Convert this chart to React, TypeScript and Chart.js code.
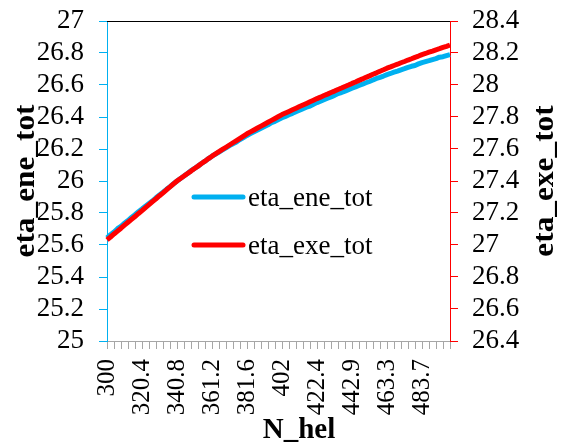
import React, { useEffect, useRef } from "react";
import { Chart, registerables } from "chart.js";

Chart.register(...registerables);

// N_hel categories (99 points, 300 .. 500)
const nHel: number[] = [
  300, 302, 304.1, 306.1, 308.2, 310.2, 312.2, 314.3, 316.3, 318.4,
  320.4, 322.4, 324.5, 326.5, 328.6, 330.6, 332.7, 334.7, 336.7, 338.8,
  340.8, 342.9, 344.9, 346.9, 349, 351, 353.1, 355.1, 357.1, 359.2,
  361.2, 363.3, 365.3, 367.3, 369.4, 371.4, 373.5, 375.5, 377.6, 379.6,
  381.6, 383.7, 385.7, 387.8, 389.8, 391.8, 393.9, 395.9, 398, 400,
  402, 404.1, 406.1, 408.2, 410.2, 412.2, 414.3, 416.3, 418.4, 420.4,
  422.4, 424.5, 426.5, 428.6, 430.6, 432.7, 434.7, 436.7, 438.8, 440.8,
  442.9, 444.9, 446.9, 449, 451, 453.1, 455.1, 457.1, 459.2, 461.2,
  463.3, 465.3, 467.3, 469.4, 471.4, 473.5, 475.5, 477.6, 479.6, 481.6,
  483.7, 485.7, 487.8, 489.8, 491.8, 493.9, 495.9, 498, 500,
];

// left axis series
const etaEneTot: number[] = [
  25.645, 25.664, 25.681, 25.702, 25.717, 25.736, 25.753, 25.772, 25.789, 25.808,
  25.825, 25.843, 25.860, 25.876, 25.895, 25.913, 25.930, 25.948, 25.965, 25.983,
  26.000, 26.016, 26.031, 26.047, 26.065, 26.078, 26.093, 26.109, 26.124, 26.140,
  26.155, 26.168, 26.181, 26.194, 26.207, 26.221, 26.233, 26.244, 26.259, 26.272,
  26.285, 26.296, 26.307, 26.318, 26.329, 26.340, 26.351, 26.365, 26.373, 26.384,
  26.395, 26.404, 26.414, 26.423, 26.433, 26.442, 26.452, 26.461, 26.468, 26.480,
  26.490, 26.499, 26.508, 26.517, 26.526, 26.535, 26.547, 26.553, 26.562, 26.571,
  26.580, 26.588, 26.597, 26.605, 26.614, 26.622, 26.631, 26.641, 26.648, 26.656,
  26.665, 26.672, 26.680, 26.687, 26.695, 26.702, 26.710, 26.717, 26.722, 26.732,
  26.740, 26.746, 26.752, 26.759, 26.765, 26.774, 26.777, 26.784, 26.790,
];

// right axis series
const etaExeTot: number[] = [
  27.032, 27.050, 27.069, 27.087, 27.105, 27.124, 27.142, 27.160, 27.178, 27.197,
  27.215, 27.234, 27.252, 27.271, 27.289, 27.308, 27.326, 27.345, 27.363, 27.382,
  27.400, 27.416, 27.431, 27.447, 27.462, 27.478, 27.493, 27.509, 27.524, 27.540,
  27.555, 27.569, 27.583, 27.597, 27.611, 27.625, 27.639, 27.653, 27.667, 27.681,
  27.695, 27.707, 27.719, 27.731, 27.743, 27.755, 27.767, 27.779, 27.791, 27.803,
  27.815, 27.825, 27.835, 27.845, 27.855, 27.865, 27.875, 27.885, 27.895, 27.905,
  27.915, 27.924, 27.934, 27.943, 27.953, 27.962, 27.972, 27.981, 27.991, 28.000,
  28.010, 28.019, 28.029, 28.038, 28.048, 28.057, 28.067, 28.076, 28.086, 28.095,
  28.105, 28.113, 28.122, 28.130, 28.139, 28.147, 28.156, 28.164, 28.173, 28.181,
  28.190, 28.197, 28.205, 28.212, 28.220, 28.227, 28.235, 28.242, 28.250,
];

const xTickLabels: string[] = [
  "300", "320.4", "340.8", "361.2", "381.6", "402", "422.4", "442.9", "463.3", "483.7",
];

const leftTitle = "eta_ene_tot";
const rightTitle = "eta_exe_tot";
const xTitle = "N_hel";
const seriesNames = ["eta_ene_tot", "eta_exe_tot"];

const CYAN = "#00B0F0";
const RED = "#FF0000";
const FONT = "'Liberation Serif', 'Times New Roman', serif";

const decorPlugin = {
  id: "decor",
  afterDraw(chart: any) {
    const { ctx, chartArea: a } = chart;
    ctx.save();
    // top border of plot area
    ctx.strokeStyle = "#000";
    ctx.lineWidth = 1;
    ctx.beginPath();
    ctx.moveTo(a.left, a.top + 0.5);
    ctx.lineTo(a.right, a.top + 0.5);
    ctx.stroke();

    // legend inside plot
    const rows = [
      { name: seriesNames[0], color: CYAN, y: a.top + 176 },
      { name: seriesNames[1], color: RED, y: a.top + 224 },
    ];
    ctx.font = `27px ${FONT}`;
    ctx.textBaseline = "middle";
    ctx.textAlign = "left";
    for (const r of rows) {
      ctx.strokeStyle = r.color;
      ctx.lineWidth = 5;
      ctx.lineCap = "round";
      ctx.beginPath();
      ctx.moveTo(a.left + 87, r.y);
      ctx.lineTo(a.left + 136, r.y);
      ctx.stroke();
      ctx.fillStyle = "#000";
      ctx.fillText(r.name, a.left + 141, r.y + 2);
    }

    // axis titles
    const midY = (a.top + a.bottom) / 2;
    ctx.font = `bold 29px ${FONT}`;
    ctx.fillStyle = "#000";
    ctx.textAlign = "center";
    ctx.textBaseline = "alphabetic";
    ctx.save();
    ctx.translate(34, midY);
    ctx.rotate(-Math.PI / 2);
    ctx.scale(1.08, 1);
    ctx.fillText(leftTitle, 0, 0);
    ctx.restore();
    ctx.save();
    ctx.translate(553, midY);
    ctx.rotate(-Math.PI / 2);
    ctx.scale(1.08, 1);
    ctx.fillText(rightTitle, 0, 0);
    ctx.restore();
    ctx.fillText(xTitle, 299, 438);
    ctx.restore();
  },
};

const noPadV = (w: number) => (s: any) => {
  s.width = w;
  s.paddingTop = 0;
  s.paddingBottom = 0;
};

export default function App() {
  const ref = useRef<HTMLCanvasElement | null>(null);
  useEffect(() => {
    if (!ref.current) return;
    const chart = new Chart(ref.current, {
      type: "line",
      data: {
        labels: nHel,
        datasets: [
          {
            label: seriesNames[0],
            data: etaEneTot,
            borderColor: CYAN,
            backgroundColor: CYAN,
            borderWidth: 5,
            pointRadius: 0,
            tension: 0,
            yAxisID: "y",
            order: 2,
            borderJoinStyle: "round",
          },
          {
            label: seriesNames[1],
            data: etaExeTot,
            borderColor: RED,
            backgroundColor: RED,
            borderWidth: 5,
            pointRadius: 0,
            tension: 0,
            yAxisID: "y1",
            order: 1,
            borderJoinStyle: "round",
          },
        ],
      },
      options: {
        responsive: false,
        animation: false,
        devicePixelRatio: 1,
        layout: { padding: { top: 21, left: 0, right: 0, bottom: 0 } },
        plugins: { legend: { display: false }, tooltip: { enabled: false } },
        scales: {
          x: {
            type: "category",
            offset: false,
            afterFit: (s: any) => {
              s.height = 106;
              s.paddingLeft = 0;
              s.paddingRight = 0;
            },
            border: { display: true, color: "#A6A6A6", width: 1 },
            grid: {
              drawOnChartArea: false,
              drawTicks: true,
              tickLength: 8,
              color: (c: any) => (c.index % 2 === 0 ? "#A6A6A6" : "rgba(0,0,0,0)"),
            },
            ticks: {
              autoSkip: false,
              maxRotation: 90,
              minRotation: 90,
              padding: 10,
              color: "#000",
              font: { family: FONT, size: 25 },
              callback: (_v: any, i: number) => (i % 10 === 0 ? xTickLabels[i / 10] ?? "" : ""),
            },
          },
          y: {
            position: "left",
            min: 25,
            max: 27,
            afterFit: noPadV(107),
            border: { display: true, color: CYAN, width: 1 },
            grid: { drawOnChartArea: false, tickLength: 8, color: CYAN },
            ticks: {
              stepSize: 0.2,
              autoSkip: false,
              padding: 15,
              color: "#000",
              font: { family: FONT, size: 27 },
              callback: (v: any) => String(Number(Number(v).toFixed(1))),
            },
          },
          y1: {
            position: "right",
            min: 26.4,
            max: 28.4,
            afterFit: noPadV(112),
            border: { display: true, color: RED, width: 1 },
            grid: { drawOnChartArea: false, tickLength: 8, color: RED },
            ticks: {
              stepSize: 0.2,
              autoSkip: false,
              padding: 14,
              color: "#000",
              font: { family: FONT, size: 27 },
              callback: (v: any) => String(Number(Number(v).toFixed(1))),
            },
          },
        },
      },
      plugins: [decorPlugin],
    } as any);
    return () => chart.destroy();
  }, []);

  return (
    <div style={{ position: "absolute", left: 0, top: 0, width: 562, height: 447, background: "#fff" }}>
      <canvas ref={ref} width={562} height={447} style={{ display: "block" }} />
    </div>
  );
}
